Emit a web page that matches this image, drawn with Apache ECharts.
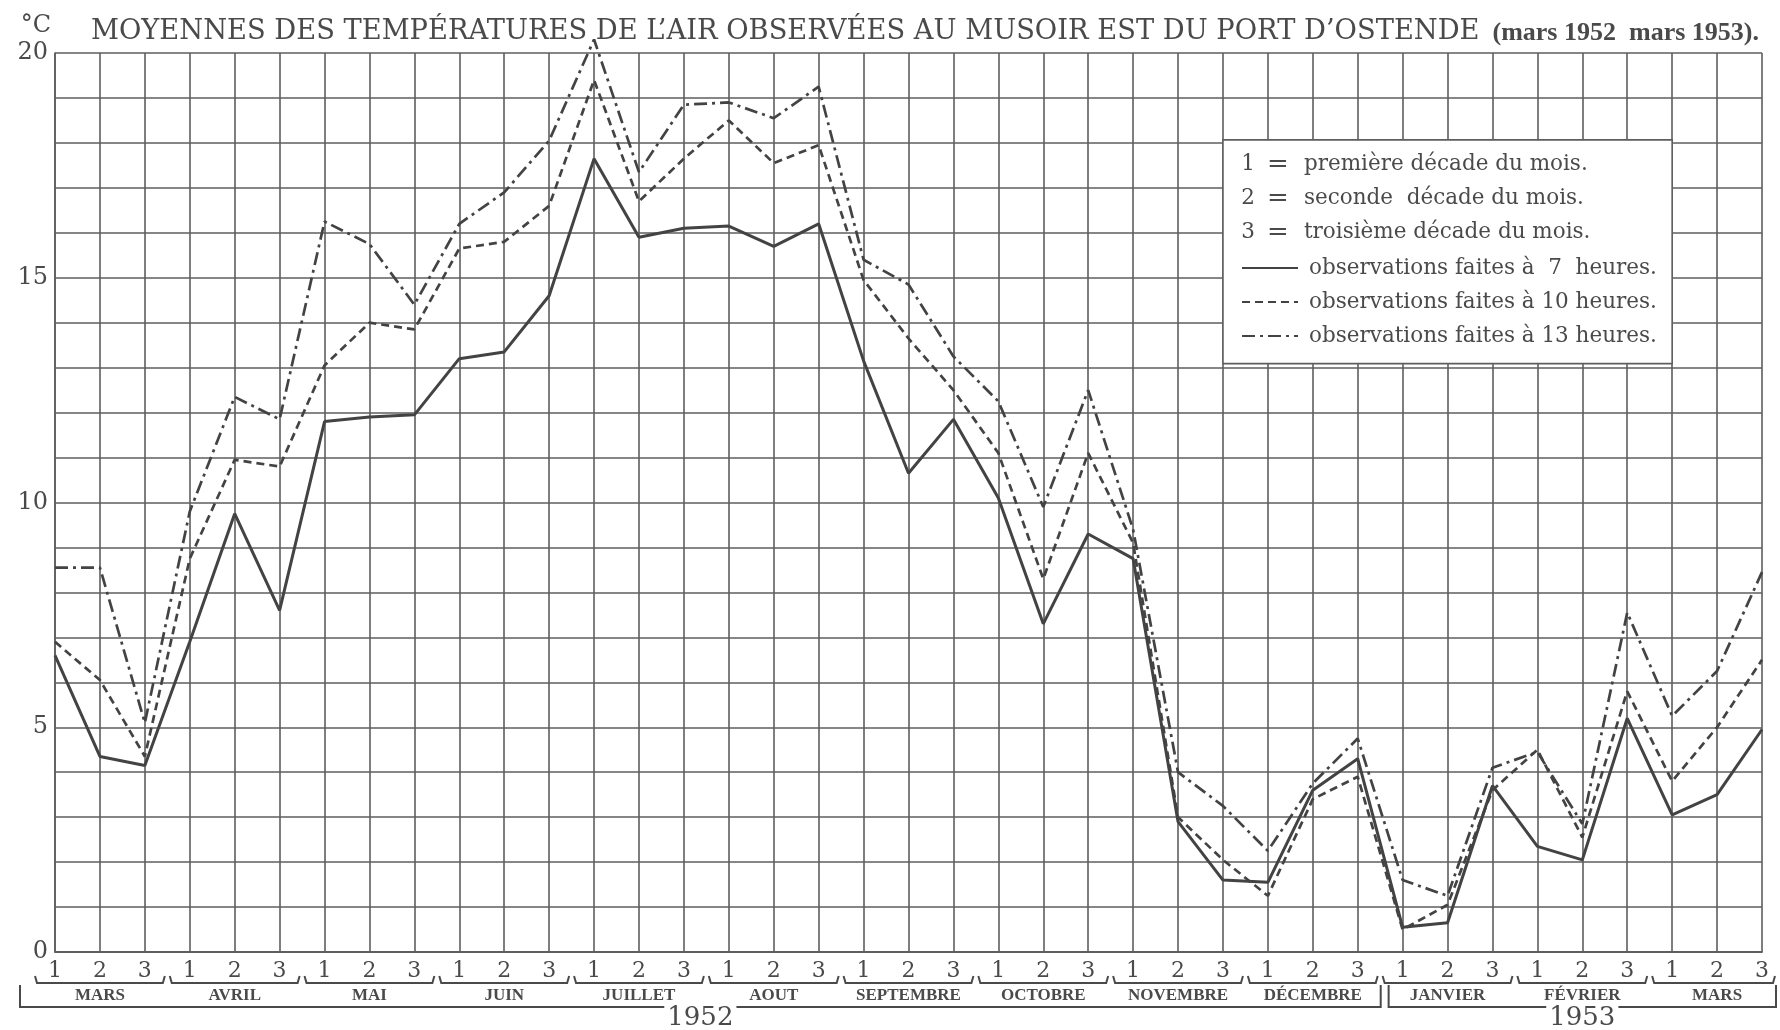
<!DOCTYPE html>
<html><head><meta charset="utf-8">
<script src="https://cdn.jsdelivr.net/npm/echarts@6/dist/echarts.min.js"></script>
<style>html,body{margin:0;padding:0;background:#fff}#c{width:1780px;height:1030px}</style>
</head><body><div id="c"></div>
<script>
// ---- data ----
const decadeLabels = ['1', '2', '3'];
const months = ['MARS','AVRIL','MAI','JUIN','JUILLET','AOUT','SEPTEMBRE','OCTOBRE','NOVEMBRE','DÉCEMBRE','JANVIER','FÉVRIER','MARS'];
const years = ['1952', '1953'];
const monthsPerYear = [10, 3];
const yTickLabels = ['0', '5', '10', '15', '20'];
const seriesNames = ['observations faites à  7  heures.', 'observations faites à 10 heures.', 'observations faites à 13 heures.'];
const decadeNotes = ['première décade du mois.', 'seconde  décade du mois.', 'troisième décade du mois.'];
const titleMain = 'MOYENNES DES TEMPÉRATURES DE L\u2019AIR OBSERVÉES AU MUSOIR EST DU PORT D\u2019OSTENDE';
const titleSub = '(mars 1952  mars 1953).';
const unitLabel = '°C';

const obs7h  = [6.6, 4.35, 4.15, 6.9, 9.75, 7.6, 11.8, 11.9, 11.95, 13.2, 13.35, 14.6, 17.65, 15.9, 16.1, 16.15, 15.7, 16.2, 13.15, 10.65, 11.85, 10.1, 7.3, 9.3, 8.75, 2.9, 1.6, 1.55, 3.6, 4.3, 0.55, 0.65, 3.7, 2.35, 2.05, 5.2, 3.05, 3.5, 4.95];
const obs10h = [6.9, 6.05, 4.35, 8.75, 10.95, 10.8, 13.05, 14.0, 13.85, 15.65, 15.8, 16.6, 19.4, 16.7, 17.65, 18.5, 17.55, 17.95, 14.95, 13.65, 12.5, 11.1, 8.3, 11.1, 9.1, 3.0, 2.05, 1.25, 3.4, 3.9, 0.5, 1.05, 3.6, 4.5, 2.55, 5.8, 3.8, 5.0, 6.5];
const obs13h = [8.55, 8.55, 5.1, 9.8, 12.35, 11.85, 16.25, 15.75, 14.4, 16.2, 16.9, 18.05, 20.3, 17.35, 18.85, 18.9, 18.55, 19.25, 15.4, 14.85, 13.25, 12.25, 9.9, 12.5, 9.4, 4.0, 3.25, 2.25, 3.75, 4.75, 1.6, 1.25, 4.1, 4.45, 2.85, 7.55, 5.25, 6.25, 8.45];

// ---- derived ----
const categories = months.flatMap(() => decadeLabels);
const monthCats = categories.map((d, i) => (i % 3 === 1 ? months[Math.floor(i / 3)] : ''));

const INK = '#434343';
const GRIDC = '#5e5e5e';
const TXT = '#4a4a4a';
const SERIF = '"DejaVu Serif", serif';

const chart = echarts.init(document.getElementById('c'), null, { renderer: 'canvas' });

const option = {
  backgroundColor: '#ffffff',
  animation: false,
  title: {
    text: '{a|' + titleMain + '} {b|' + titleSub + '}',
    left: 86, top: 13,
    textStyle: {
      rich: {
        a: { fontFamily: SERIF, fontSize: 27.3, color: TXT, fontWeight: 'normal' },
        b: { fontFamily: '"Liberation Serif", serif', fontSize: 26, color: TXT, fontWeight: 'bold', padding: [2, 0, 0, 8] }
      }
    }
  },
  grid: { left: 55, right: 18, top: 53, bottom: 78, containLabel: false },
  legend: {
    data: seriesNames,
    orient: 'vertical',
    left: 1236, top: 251,
    itemWidth: 56, itemHeight: 14, itemGap: 10,
    selectedMode: false,
    itemStyle: { opacity: 0 },
    textStyle: { fontFamily: SERIF, fontSize: 21.5, color: TXT, lineHeight: 24, padding: [0, 0, 0, 6] }
  },
  xAxis: [
    {
      type: 'category', data: categories, boundaryGap: false,
      axisLine: { show: true, lineStyle: { color: GRIDC, width: 1.8 } },
      axisTick: { show: false },
      axisLabel: { interval: 0, fontFamily: SERIF, fontSize: 22, color: TXT, margin: 8 },
      splitLine: { show: true, interval: 0, lineStyle: { color: GRIDC, width: 1.6 } }
    },
    {
      type: 'category', data: monthCats, boundaryGap: false, gridIndex: 0, position: 'bottom', offset: 30,
      axisLine: { show: false }, axisTick: { show: false }, splitLine: { show: false },
      axisLabel: { interval: 0, fontFamily: '"Liberation Serif", serif', fontWeight: 'bold', fontSize: 17, color: TXT, margin: 5 }
    }
  ],
  yAxis: {
    type: 'value', min: 0, max: 20, interval: 1,
    name: unitLabel, nameLocation: 'end', nameGap: 27,
    nameTextStyle: { fontFamily: SERIF, fontSize: 24, color: TXT, align: 'right', verticalAlign: 'middle', padding: [0, 4, 0, 0] },
    axisLine: { show: true, lineStyle: { color: GRIDC, width: 1.6 } },
    axisTick: { show: false },
    axisLabel: {
      fontFamily: SERIF, fontSize: 24, color: TXT, margin: 7, padding: [0, 0, 14, 0],
      formatter: v => (yTickLabels.includes(String(v)) ? String(v) : '')
    },
    splitLine: { show: true, lineStyle: { color: GRIDC, width: 1.6 } }
  },
  series: [
    { name: seriesNames[0], type: 'line', data: obs7h, symbol: 'none', clip: false, z: 5,
      lineStyle: { color: INK, width: 3, type: 'solid' }, itemStyle: { color: INK } },
    { name: seriesNames[1], type: 'line', data: obs10h, symbol: 'none', clip: false, z: 5,
      lineStyle: { color: INK, width: 2.7, type: [8, 5] }, itemStyle: { color: INK } },
    { name: seriesNames[2], type: 'line', data: obs13h, symbol: 'none', clip: false, z: 5,
      lineStyle: { color: INK, width: 2.7, type: [13, 5, 3, 5] }, itemStyle: { color: INK } }
  ]
};
chart.setOption(option);

// ---- decorations positioned through the axes ----
const px = i => chart.convertToPixel({ xAxisIndex: 0 }, i);
const py = v => chart.convertToPixel({ yAxisIndex: 0 }, v);
const W = 1780;
const bottom = py(0);
const g = [];

// legend box (white panel over the grid)
const bx1 = px(26), bx2 = px(36), by1 = py(18) - 3, by2 = py(13) - 4;
g.push({ type: 'rect', z: 3, shape: { x: bx1, y: by1, width: bx2 - bx1, height: by2 - by1 },
  style: { fill: '#ffffff', stroke: GRIDC, lineWidth: 1.6 } });
decadeNotes.forEach((t, k) => {
  const yy = by1 + 25 + k * 34;
  g.push({ type: 'text', z: 5, style: { text: decadeLabels[k], x: bx1 + 32, y: yy, align: 'right', verticalAlign: 'middle', font: '21.5px ' + SERIF, fill: TXT } });
  g.push({ type: 'text', z: 5, style: { text: '=', x: bx1 + 55, y: yy, align: 'center', verticalAlign: 'middle', font: '26px ' + SERIF, fill: TXT } });
  g.push({ type: 'text', z: 5, style: { text: t, x: bx1 + 81, y: yy, align: 'left', verticalAlign: 'middle', font: '21.5px ' + SERIF, fill: TXT } });
});

// month brackets
const mY = bottom + 31;
months.forEach((m, k) => {
  const xa = px(3 * k) - 20;
  const xb = Math.min(px(3 * k + 2) + 20, W - 5);
  g.push({ type: 'polyline', z: 3, shape: { points: [[xa, mY - 7], [xa + 2, mY], [xb - 2, mY], [xb, mY - 7]] },
    style: { stroke: TXT, lineWidth: 2, fill: null } });
});

// year brackets
const yY = bottom + 55;
const padL = [35, 14], padR = [23, 14];
let startMonth = 0;
years.forEach((yr, k) => {
  const first = 3 * startMonth, last = 3 * (startMonth + monthsPerYear[k]) - 1;
  const xa = px(first) - padL[k];
  const xb = Math.min(px(last) + padR[k], W - 4);
  g.push({ type: 'polyline', z: 3, shape: { points: [[xa, mY + 2], [xa, yY], [xb, yY], [xb, mY + 2]] },
    style: { stroke: TXT, lineWidth: 2, fill: null } });
  g.push({ type: 'text', z: 4, style: { text: yr, x: (xa + xb) / 2, y: yY + 11, align: 'center', verticalAlign: 'middle',
    font: '26px ' + SERIF, fill: TXT, backgroundColor: '#ffffff', padding: [0, 3, 0, 3] } });
  startMonth += monthsPerYear[k];
});

chart.setOption({ graphic: { elements: g } });
</script>
</body></html>
